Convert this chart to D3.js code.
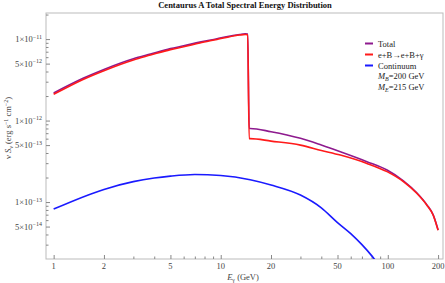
<!DOCTYPE html>
<html>
<head>
<meta charset="utf-8">
<script src="https://cdn.jsdelivr.net/npm/d3@7"></script>
<style>
  body { margin: 0; background: #fff; }
  text { font-family: "Liberation Serif", "DejaVu Serif", serif; fill: #444; }
</style>
</head>
<body>
<svg id="chart" width="445" height="283"></svg>
<script>
// energies (GeV) and nu S_nu values (erg s^-1 cm^-2)
const totalE = [1, 1.5, 2, 3, 3.8, 5, 6, 7.5, 9.5, 11, 13, 14, 14.5, 14.8, 15, 20, 30, 40, 52, 75, 99, 124, 149, 171, 187, 200]
const totalS = [2.18e-12, 3.3e-12, 4.24e-12, 5.73e-12, 6.55e-12, 7.64e-12, 8.27e-12, 9.18e-12, 1.01e-11, 1.076e-11, 1.14e-11, 1.16e-11, 1.15e-11,
  8.0e-13, 8.0e-13, 7.3e-13, 6.05e-13, 5.0e-13, 4.14e-13, 3.13e-13, 2.47e-13, 1.82e-13, 1.3e-13, 9.3e-14, 6.95e-14, 4.55e-14]
const brehmE = [1, 1.5, 2, 3, 3.8, 5, 6, 7.5, 9.5, 11, 13, 14, 14.5, 14.8, 15, 20, 30, 40, 52, 75, 99, 124, 149, 171, 187, 200]
const brehmS = [2.1e-12, 3.2e-12, 4.1e-12, 5.55e-12, 6.36e-12, 7.43e-12, 8.05e-12, 8.96e-12, 9.9e-12, 1.055e-11, 1.12e-11, 1.14e-11, 1.13e-11,
  6.0e-13, 6.0e-13, 5.6e-13, 5.0e-13, 4.3e-13, 3.77e-13, 2.98e-13, 2.36e-13, 1.78e-13, 1.28e-13, 9.2e-14, 6.9e-14, 4.5e-14]
const contE = [1, 2, 3, 4, 5, 7, 10, 15, 20, 30, 40, 50, 60, 70, 80, 90]
const contS = [8.2e-14, 1.43e-13, 1.78e-13, 1.97e-13, 2.08e-13, 2.18e-13, 2.12e-13, 1.88e-13, 1.62e-13, 1.22e-13,
  8.5e-14, 5.6e-14, 4.1e-14, 3.0e-14, 2.2e-14, 1.6e-14]

const xMajor = [1, 2, 5, 10, 20, 50, 100, 200]
const xMinor = [3, 4, 6, 7, 8, 9, 30, 40, 60, 70, 80, 90]
const yMajor = [[1, -11], [5, -12], [1, -12], [5, -13], [1, -13], [5, -14]]

const series = [
  { name: "Total", color: "#8e1a8e", E: totalE, S: totalS },
  { name: "e+B\u2192e+B+\u03b3", color: "#ff1a1a", E: brehmE, S: brehmS },
  { name: "Continuum", color: "#1a1aff", E: contE, S: contS }
]

let svg = d3.select("#chart")
let pLeft = 46, pRight = 443, pTop = 13, pBottom = 259

let x = d3.scaleLog().domain([0.9, 214]).range([pLeft, pRight])
let y = d3.scaleLog().domain([2.0e-14, 2.09e-11]).range([pBottom, pTop])

// y minor ticks: every multiple within each decade
let yMinor = []
for (let p = -14; p <= -11; p++) {
  for (let m = 2; m <= 9; m++) {
    let v = m * Math.pow(10, p)
    if (v > 2.0e-14 && v < 2.09e-11 && m != 5) yMinor.push(v)
  }
}

// frame
svg.append("rect")
  .attr("x", pLeft).attr("y", pTop)
  .attr("width", pRight - pLeft).attr("height", pBottom - pTop)
  .attr("fill", "none").attr("stroke", "#bbb").attr("stroke-width", 1)

let gx = svg.append("g").attr("transform", `translate(0,${pBottom})`)
gx.call(d3.axisBottom(x).tickValues(xMajor).tickSize(-4).tickFormat(""))
gx.append("g").call(d3.axisBottom(x).tickValues(xMinor).tickSize(-2.5).tickFormat(""))
gx.selectAll(".domain").remove()
gx.selectAll("line").attr("stroke", "#888")

let gy = svg.append("g").attr("transform", `translate(${pLeft},0)`)
gy.call(d3.axisLeft(y).tickValues(yMajor.map(d => d[0] * Math.pow(10, d[1]))).tickSize(-4).tickFormat(""))
gy.append("g").call(d3.axisLeft(y).tickValues(yMinor).tickSize(-2.5).tickFormat(""))
gy.selectAll(".domain").remove()
gy.selectAll("line").attr("stroke", "#888")

// tick labels
svg.selectAll(".xl").data(xMajor).enter().append("text")
  .attr("x", d => x(d)).attr("y", 269)
  .attr("text-anchor", "middle").attr("font-size", 8.5)
  .text(d => d)

yMajor.forEach(d => {
  let t = svg.append("text")
    .attr("x", 42).attr("y", y(d[0] * Math.pow(10, d[1])) + 3)
    .attr("text-anchor", "end").attr("font-size", 8.5)
  t.append("tspan").text(d[0] + "\u00d710")
  t.append("tspan").attr("dy", -3.5).attr("font-size", 6).text("\u2212" + (-d[1]))
})

// curves
let line = d3.line()
  .x(d => x(d[0]))
  .y(d => y(d[1]))
  .curve(d3.curveMonotoneX)

svg.append("clipPath").attr("id", "clip")
  .append("rect").attr("x", pLeft).attr("y", pTop)
  .attr("width", pRight - pLeft).attr("height", pBottom - pTop)

let plot = svg.append("g").attr("clip-path", "url(#clip)")
plot.selectAll("path.s").data(series).enter().append("path")
  .attr("class", "s")
  .attr("d", s => line(s.E.map((e, i) => [e, s.S[i]])))
  .attr("fill", "none")
  .attr("stroke", s => s.color)
  .attr("stroke-width", 1.6)

// title
svg.append("text")
  .attr("x", 245).attr("y", 8)
  .attr("text-anchor", "middle").attr("font-size", 8.5).attr("font-weight", "bold")
  .style("fill", "#111")
  .text("Centaurus A Total Spectral Energy Distribution")

// axis labels
let xl = svg.append("text")
  .attr("x", 243).attr("y", 280)
  .attr("text-anchor", "middle").attr("font-size", 8.5)
xl.append("tspan").attr("font-style", "italic").text("E")
xl.append("tspan").attr("dy", 2).attr("font-size", 6).text("\u03b3")
xl.append("tspan").attr("dy", -2).text(" (GeV)")

let yl = svg.append("text")
  .attr("transform", "translate(11,128) rotate(-90)")
  .attr("text-anchor", "middle").attr("font-size", 8.5)
yl.append("tspan").text("\u03bd ")
yl.append("tspan").attr("font-style", "italic").text("S")
yl.append("tspan").attr("dy", 2).attr("font-size", 6).text("\u03bd")
yl.append("tspan").attr("dy", -2).text(" (erg s")
yl.append("tspan").attr("dy", -3.5).attr("font-size", 6).text("\u22121")
yl.append("tspan").attr("dy", 3.5).text(" cm")
yl.append("tspan").attr("dy", -3.5).attr("font-size", 6).text("\u22122")
yl.append("tspan").attr("dy", 3.5).text(")")

// legend
let lg = svg.append("g")
series.forEach((s, i) => {
  let yy = 43.5 + i * 11
  lg.append("line")
    .attr("x1", 365).attr("x2", 373).attr("y1", yy).attr("y2", yy)
    .attr("stroke", s.color).attr("stroke-width", 2)
  lg.append("text").attr("x", 378).attr("y", yy + 3)
    .attr("font-size", 8.5).style("fill", "#222").text(s.name)
})
;[["B", "=200 GeV"], ["E", "=215 GeV"]].forEach((m, i) => {
  let t = lg.append("text").attr("x", 378).attr("y", 79 + i * 11)
    .attr("font-size", 8.5).style("fill", "#222")
  t.append("tspan").attr("font-style", "italic").text("M")
  t.append("tspan").attr("dy", 2).attr("font-size", 6).attr("font-style", "italic").text(m[0])
  t.append("tspan").attr("dy", -2).text(m[1])
})
</script>
</body>
</html>
